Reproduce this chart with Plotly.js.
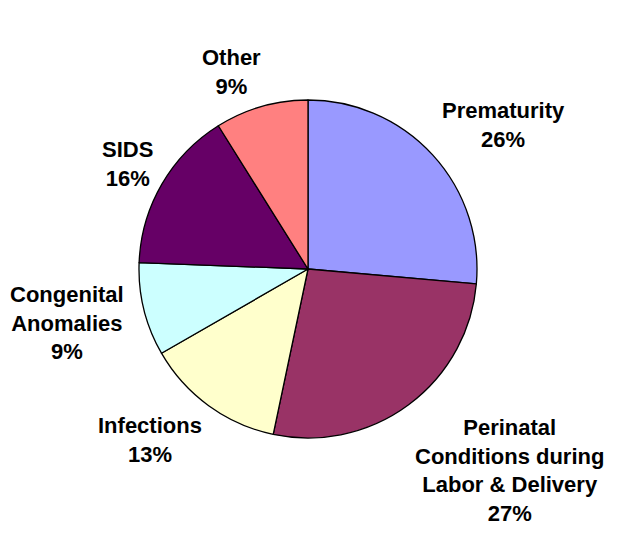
<!DOCTYPE html>
<html>
<head>
<meta charset="utf-8">
<script src="https://cdn.plot.ly/plotly-3.0.1.min.js"></script>
<style>html,body{margin:0;padding:0;background:#fff;}#chart{width:620px;height:536px;}</style>
</head>
<body>
<div id="chart"></div>
<script>
var categories = ["Prematurity", "Perinatal<br>Conditions during<br>Labor & Delivery", "Infections", "Congenital<br>Anomalies", "SIDS", "Other"];
var values = [26.4, 26.9, 13.4, 8.9, 15.5, 8.9];
var pctLabels = ["26%", "27%", "13%", "9%", "16%", "9%"];
var colors = ["#9999FF", "#993366", "#FFFFCC", "#CCFFFF", "#660066", "#FF8080"];
// label anchor positions in pixels (layout only)
var labelPos = [[503, 125], [509, 470], [150, 440], [67, 323], [127, 164], [231, 72]];

var W = 620, H = 536;
var cx = 308, cy = 269, r = 169;

var annotations = categories.map(function (c, i) {
  return {
    text: "<b>" + c + "<br>" + pctLabels[i] + "</b>",
    x: labelPos[i][0] / W,
    y: 1 - labelPos[i][1] / H,
    xref: "paper", yref: "paper",
    xanchor: "center", yanchor: "middle",
    showarrow: false,
    align: "center",
    font: {family: "Liberation Sans, Arial, sans-serif", size: 22, color: "#000"}
  };
});

var trace = {
  type: "pie",
  labels: categories,
  values: values,
  sort: false,
  direction: "clockwise",
  rotation: 0,
  textinfo: "none",
  hoverinfo: "none",
  marker: {colors: colors, line: {color: "#000", width: 1.3}},
  domain: {x: [(cx - r) / W, (cx + r) / W], y: [1 - (cy + r) / H, 1 - (cy - r) / H]}
};

Plotly.newPlot("chart", [trace], {
  width: W, height: H,
  margin: {l: 0, r: 0, t: 0, b: 0},
  showlegend: false,
  paper_bgcolor: "#fff",
  annotations: annotations
}, {staticPlot: true});
</script>
</body>
</html>
